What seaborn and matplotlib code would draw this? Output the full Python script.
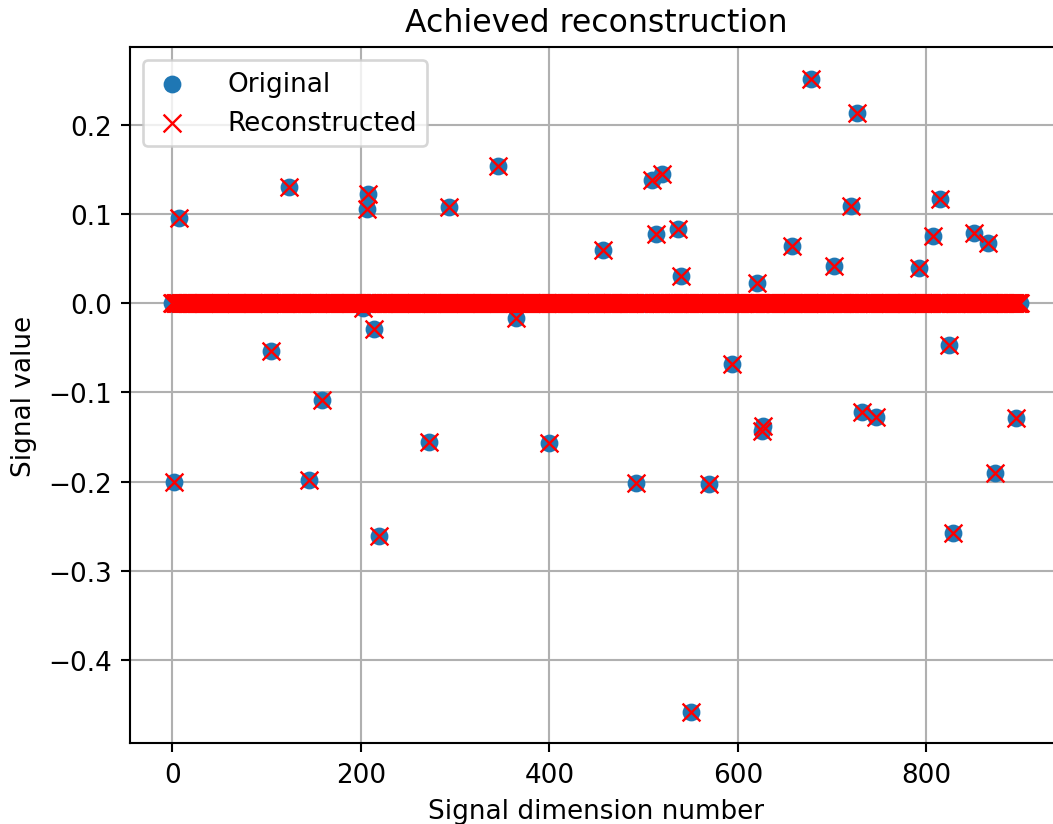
import numpy as np
import pandas as pd
import matplotlib
matplotlib.use("Agg")
import matplotlib.pyplot as plt
import seaborn as sns

# Sparse signal: length and its non-zero entries
n_dims = 900
nonzero_idx = [2, 7, 105, 124, 145, 159, 202, 207, 208, 214, 219, 272, 294,
               346, 365, 400, 457, 492, 509, 513, 520, 536, 540, 550, 569,
               594, 620, 626, 627, 657, 678, 702, 720, 726, 732, 747, 792,
               807, 815, 824, 828, 851, 866, 873, 895]
nonzero_val = [-0.200, 0.096, -0.053, 0.130, -0.198, -0.108, -0.005, 0.106,
               0.123, -0.029, -0.261, -0.155, 0.108, 0.154, -0.017, -0.157,
               0.060, -0.201, 0.138, 0.078, 0.145, 0.083, 0.031, -0.458,
               -0.203, -0.068, 0.023, -0.143, -0.138, 0.064, 0.252, 0.042,
               0.109, 0.213, -0.122, -0.127, 0.040, 0.075, 0.117, -0.047,
               -0.258, 0.079, 0.068, -0.190, -0.129]

original = np.zeros(n_dims)
original[nonzero_idx] = nonzero_val
reconstructed = original.copy()

df = pd.DataFrame({
    "dim": np.arange(n_dims),
    "original": original,
    "reconstructed": reconstructed,
})

dpi = 189
fig = plt.figure(figsize=(1053 / dpi, 825 / dpi), dpi=dpi)
ax = fig.add_axes([0.1235, 0.0978, 0.885, 0.844])

sns.scatterplot(data=df, x="dim", y="original", ax=ax, marker="o",
                s=46, color="#1f77b4", linewidth=0, label="Original")
sns.scatterplot(data=df, x="dim", y="reconstructed", ax=ax, marker="x",
                s=46, color="red", linewidth=0.9, label="Reconstructed")

ax.set_axisbelow(True)
ax.grid(True, color="#b0b0b0", linewidth=0.8)
ax.set_title("Achieved reconstruction", fontsize=12)
ax.set_xlabel("Signal dimension number", fontsize=10)
ax.set_ylabel("Signal value", fontsize=10)
ax.tick_params(labelsize=10)
ax.set_xticks([0, 200, 400, 600, 800])
ax.legend(loc="upper left", fontsize=10, scatterpoints=1,
          handlelength=1.4, handletextpad=1.4)

fig.savefig("out.png", dpi=dpi)
